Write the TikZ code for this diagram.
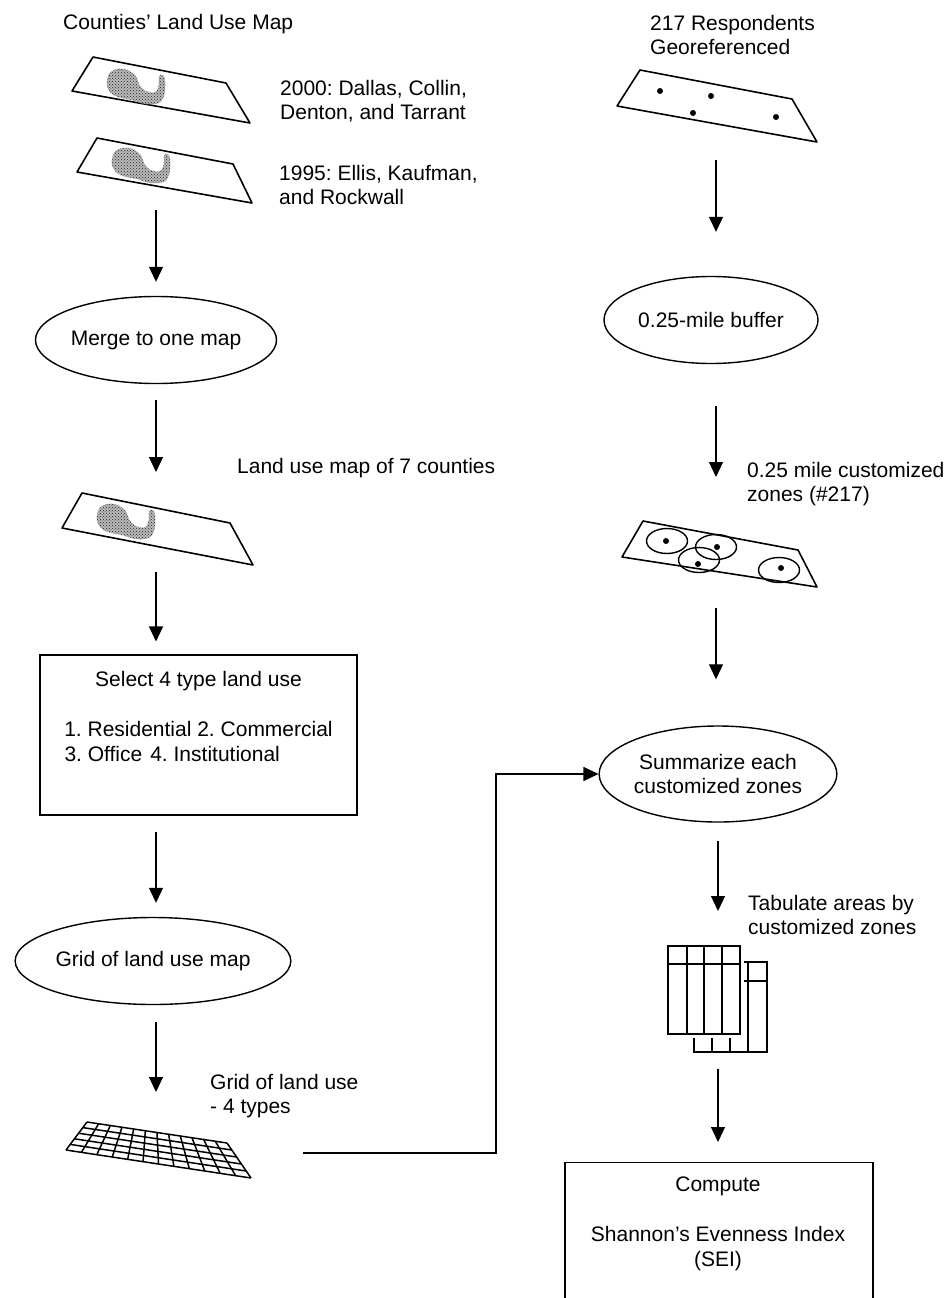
\documentclass[tikz,border=0pt]{standalone}
\usepackage{fontspec}
\setmainfont{Liberation Sans}
\usetikzlibrary{arrows.meta,shapes.geometric,calc,patterns}
\frenchspacing
\begin{document}
\begin{tikzpicture}[x=1pt,y=-1pt,
 lbl/.style={font=\fontsize{21}{24}\selectfont, inner sep=0pt, align=left, anchor=west},
 boxtxt/.style={font=\fontsize{21}{25}\selectfont, inner sep=0pt, align=center, anchor=north},
 ell/.style={draw, ellipse, line width=1.4pt, font=\fontsize{21}{24}\selectfont, align=center, inner sep=0pt},
 arr/.style={line width=1.1pt, -{Triangle[length=15pt,width=14pt]}},
 mapedge/.style={line width=1.6pt, line join=round},
 blobst/.style={fill=gray!55, draw=gray!75, densely dotted, line width=1pt},
 blobdots/.style={pattern=crosshatch dots, pattern color=gray!30!black},
 rdot/.style={circle, fill=black, inner sep=0pt, minimum size=6pt},
 zone/.style={draw, line width=1.4pt},
 boxst/.style={draw, line width=1.1pt, inner sep=0pt},
 tbl/.style={line width=1.3pt},
 gridln/.style={line width=1.5pt},
]
\useasboundingbox (0,0) rectangle (952,1298);
\clip (0,0) rectangle (952,1298);

\newcommand{\blobpath}{plot[smooth cycle, tension=0.55] coordinates {(0,13) (3,3) (12,-1) (22,1) (29,7) (32,15) (38,21) (46,23) (50,21) (52,15) (52,8) (54,5) (57,7) (58,15) (57,25) (53,32) (45,34) (35,33) (26,30) (16,28) (7,25) (2,20)}}
\newcommand{\myblob}[2]{%
 \begin{scope}[shift={(#1,#2)}]
 \path[blobst] \blobpath;
 \path[blobdots] \blobpath;
 \end{scope}}

% ---------- left column ----------
\node[lbl] (tcounties) at (63,24) {Counties’ Land Use Map};

\draw[mapedge] (93,57) -- (226,83) -- (250,123) -- (72,91) -- cycle;
\myblob{107}{70}
\node[lbl] (t2000) at (280,101) {2000: Dallas, Collin,\\Denton, and Tarrant};

\draw[mapedge] (97,138) -- (233,164) -- (252,203) -- (77,172) -- cycle;
\myblob{112}{149}
\node[lbl] (t1995) at (279,185) {1995: Ellis, Kaufman,\\and Rockwall};

\coordinate (a1s) at (156,210);
\node[ell, minimum width=214pt, minimum height=87pt] (merge) at (156,340) {Merge to one map};
\draw[arr, shorten >=14pt] (a1s) -- (a1s |- merge.north);

\coordinate (a2s) at (156,400);
\coordinate (a2e) at (156,472);
\draw[arr] (a2s) -- (a2e);
\node[lbl] (tland) at (237,468) {Land use map of 7 counties};

\draw[mapedge] (82,493) -- (230,523) -- (253,565) -- (62,528) -- cycle;
\myblob{97}{505}

\node[boxst, minimum width=317pt, minimum height=160pt] (selbox) at (198.5,735) {};
\node[boxtxt] (seltxt) at (198.5,671) {Select 4 type land use\\[25pt]1. Residential 2. Commercial\\\makebox[268pt][l]{3. Office\hspace{8pt}4. Institutional}};
\coordinate (a3s) at (156,572);
\draw[arr, shorten >=13pt] (a3s) -- (a3s |- selbox.north);

\node[ell, minimum width=222pt, minimum height=87pt] (gridell) at (153,961) {Grid of land use map};
\coordinate (a4s) at (156,832);
\draw[arr, shorten >=14pt] (a4s) -- (a4s |- gridell.north);

\coordinate (a5s) at (156,1022);
\coordinate (a5e) at (156,1092);
\draw[arr] (a5s) -- (a5e);
\node[lbl] (tgrid) at (210,1096) {Grid of land use\\- 4 types};

\coordinate (gTL) at (87,1122);
\coordinate (gTR) at (227,1143);
\coordinate (gBR) at (251,1178);
\coordinate (gBL) at (66,1150);
\foreach \i in {0,...,12} \draw[gridln] ($(gTL)!\i/12!(gTR)$) -- ($(gBL)!\i/12!(gBR)$);
\foreach \j in {0,...,5} \draw[gridln] ($(gTL)!\j/5!(gBL)$) -- ($(gTR)!\j/5!(gBR)$);

% ---------- right column ----------
\node[lbl] (tresp) at (650,35) {217 Respondents\\Georeferenced};
\draw[mapedge] (640,70) -- (792,99) -- (817,142) -- (617,106) -- cycle;
\foreach \p/\n in {{(660,91)}/d1,{(711,96)}/d2,{(693,113)}/d3,{(776,117)}/d4} \node[rdot] (\n) at \p {};

\coordinate (a6s) at (716,160);
\node[ell, minimum width=214pt, minimum height=87pt] (buffer) at (711,320) {0.25-mile buffer};
\draw[arr, shorten >=44pt] (a6s) -- (a6s |- buffer.north);

\coordinate (a7s) at (716,406);
\coordinate (a7e) at (716,477);
\draw[arr] (a7s) -- (a7e);
\node[lbl] (tzones) at (747,484) {0.25 mile customized\\zones (\#217)};

\draw[mapedge] (643,521) -- (798,550) -- (817,587) -- (622,557) -- cycle;
\foreach \p in {(667,541),(716,547),(699,560),(779,570)} \draw[zone] \p ellipse[x radius=20.5, y radius=12.5];
\foreach \p/\n in {{(666,541)}/e1,{(717,547)}/e2,{(698,564)}/e3,{(781,568)}/e4} \node[rdot] (\n) at \p {};

\node[ell, minimum width=220pt, minimum height=96pt] (summ) at (718,774) {Summarize each\\customized zones};
\coordinate (a8s) at (716,608);
\draw[arr, shorten >=46pt] (a8s) -- (a8s |- summ.north);

\coordinate (gridout) at (303,1153);
\coordinate (bend) at (496,1153);
\draw[arr] (gridout) -- (bend) -- (bend |- summ.west) -- (summ.west);

\coordinate (a9s) at (718,841);
\coordinate (a9e) at (718,911);
\draw[arr] (a9s) -- (a9e);
\node[lbl] (ttab) at (748,915) {Tabulate areas by\\customized zones};

% table icon: back sheet
\draw[tbl] (694,962) rectangle (767,1052);
\draw[tbl] (694,981) -- (767,981);
\foreach \x in {712,730,748} \draw[tbl] (\x,962) -- (\x,1052);
% front sheet
\fill[white] (664,942) rectangle (744,1038);
\draw[tbl] (668,946) rectangle (740,1034);
\draw[tbl] (668,964) -- (740,964);
\foreach \x in {687,704,722} \draw[tbl] (\x,946) -- (\x,1034);

\node[boxst, minimum width=308pt, minimum height=200pt, anchor=north] (compute) at (719,1162) {};
\coordinate (a10s) at (718,1069);
\draw[arr, shorten >=20pt] (a10s) -- (a10s |- compute.north);
\node[boxtxt] (comptxt) at (718,1177) {Compute\\[25pt]Shannon’s Evenness Index\\(SEI)};
\end{tikzpicture}
\end{document}
